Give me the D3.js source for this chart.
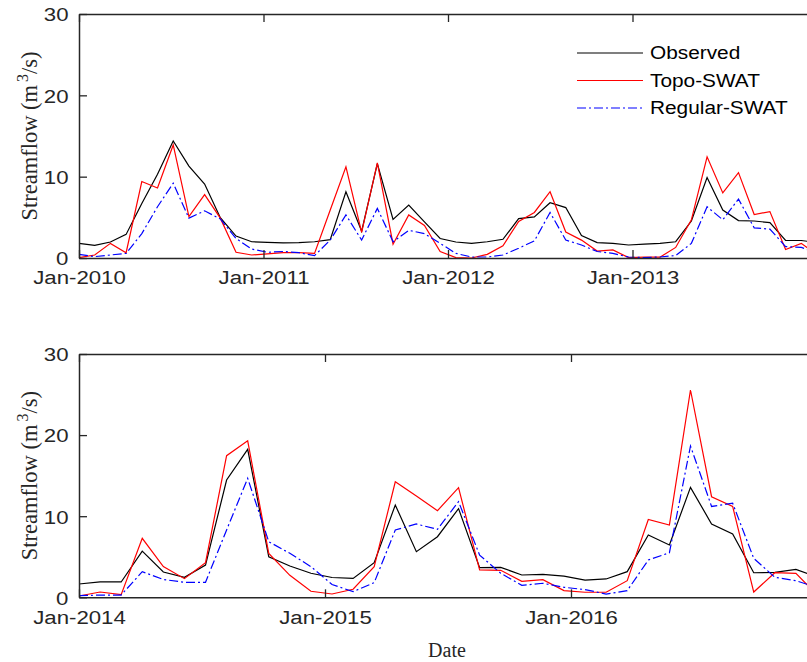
<!DOCTYPE html>
<html><head><meta charset="utf-8">
<script src="https://cdn.jsdelivr.net/npm/d3@7"></script>
<style>body{margin:0;background:#fff}svg{display:block}</style>
</head><body>
<svg id="chart" width="807" height="662"></svg>
<script>
// ---------- DATA ----------
const legendNames = ["Observed", "Topo-SWAT", "Regular-SWAT"];
const yTicks = [0, 10, 20, 30];

// Panel 1: Jan-2010 .. Dec-2013 (monthly)
const p1TickLabels = ["Jan-2010", "Jan-2011", "Jan-2012", "Jan-2013"];
const p1Observed = [1.8,1.56,1.97,2.9,6.7,10.3,14.4,11.3,9.1,4.95,2.7,2.0,
  1.93,1.85,1.9,2.0,2.25,8.15,3.3,11.6,4.75,6.5,4.45,2.4,
  1.97,1.8,2.0,2.3,4.85,5.05,6.8,6.2,2.75,1.9,1.8,1.6,
  1.7,1.8,2.0,4.55,9.9,5.9,4.6,4.55,4.35,2.15,2.15,1.9];
const p1Topo = [0.05,0.37,1.8,0.65,9.4,8.6,13.9,5.1,7.8,4.9,0.7,0.37,
  0.5,0.65,0.65,0.57,5.9,11.2,3.15,11.7,1.7,5.3,4.0,0.8,
  0.05,0.0,0.45,1.5,4.5,5.6,8.15,3.2,2.2,0.85,1.0,0.05,
  0.1,0.1,1.3,4.7,12.45,8.0,10.5,5.35,5.7,1.05,1.8,0.4];
const p1Regular = [0.45,0.17,0.37,0.57,3.0,6.3,9.2,4.9,5.8,4.8,2.4,1.1,
  0.7,0.8,0.65,0.3,2.2,5.3,2.2,6.1,2.0,3.4,3.0,1.8,
  0.57,0.12,0.12,0.37,1.2,2.1,5.6,2.2,1.6,0.8,0.57,0.12,
  0.05,0.12,0.3,1.8,6.3,4.7,7.25,3.7,3.55,1.4,1.3,0.6];

// Panel 2: Jan-2014 .. Dec-2016 (monthly)
const p2TickLabels = ["Jan-2014", "Jan-2015", "Jan-2016"];
const p2Observed = [1.64,1.89,1.89,5.7,3.12,2.46,3.98,14.46,18.25,5.0,3.86,2.96,
  2.44,2.33,4.27,11.38,5.63,7.47,10.93,3.65,3.69,2.75,2.83,2.6,
  2.13,2.26,3.16,7.68,6.45,13.56,9.04,7.8,3.03,3.07,3.45,2.5];
const p2Topo = [0.16,0.65,0.33,7.27,3.78,2.3,4.27,17.46,19.3,5.42,2.71,0.74,
  0.41,0.99,3.78,14.25,12.49,10.68,13.52,3.37,3.33,1.97,2.17,0.82,
  0.62,0.62,2.05,9.6,8.9,25.56,12.4,11.2,0.65,3.03,2.95,0.3];
const p2Regular = [0.2,0.28,0.28,3.16,2.2,1.85,1.85,8.3,14.67,6.86,5.42,3.78,
  1.58,0.7,1.81,8.3,9.04,8.38,11.8,5.2,2.96,1.48,1.73,1.23,
  0.95,0.4,0.82,4.6,5.5,18.66,11.2,11.6,4.8,2.47,2.05,1.2];

// ---------- STYLE / LAYOUT ----------
const svg = d3.select("#chart");
const SX = 1.17;               // horizontal stretch of the original figure text
const sansFont = "'Liberation Sans', Arial, sans-serif";
const serifFont = "'Liberation Serif', 'Times New Roman', serif";
const axisColor = "#262626";
const seriesStyle = [
  {color: "#000000", dash: null},
  {color: "#ff0000", dash: null},
  {color: "#0000ff", dash: "9,3,2,3"}
];
const left = 79, right = 817;

function drawPanel(top, bottom, obs, topo, reg, tickLabels, showLegend) {
  const n = obs.length;
  const x = d3.scaleLinear().domain([0, n - 1]).range([left, right]);
  const y = d3.scaleLinear().domain([0, 30]).range([bottom, top]);
  const tickVals = tickLabels.map((d, i) => i * (n - 1) / tickLabels.length);
  const g = svg.append("g");

  // series
  const line = d3.line().x((d, i) => x(i)).y(d => y(d));
  [obs, topo, reg].forEach((s, k) => {
    g.append("path").datum(s)
      .attr("d", line)
      .attr("fill", "none")
      .attr("stroke", seriesStyle[k].color)
      .attr("stroke-width", 1.2)
      .attr("stroke-dasharray", seriesStyle[k].dash)
      .attr("stroke-linejoin", "miter");
  });

  // axes
  const xb = d3.axisBottom(x).tickValues(tickVals)
    .tickFormat((d, i) => tickLabels[i]).tickSizeInner(-8).tickSizeOuter(0).tickPadding(13);
  const xt = d3.axisTop(x).tickValues(tickVals).tickFormat("").tickSizeInner(-8).tickSizeOuter(0);
  const yl = d3.axisLeft(y).tickValues(yTicks).tickSizeInner(-8).tickSizeOuter(0).tickPadding(9);

  const gx = g.append("g").attr("transform", `translate(0,${bottom})`).call(xb);
  const gt = g.append("g").attr("transform", `translate(0,${top})`).call(xt);
  const gy = g.append("g").attr("transform", `translate(${left},0)`).call(yl);
  [gx, gt, gy].forEach(a => {
    a.select(".domain").attr("stroke", axisColor).attr("stroke-width", 1.5);
    a.selectAll(".tick line").attr("stroke", axisColor).attr("stroke-width", 1.3);
    a.selectAll(".tick text").attr("fill", "#262626")
      .style("font-family", sansFont).style("font-size", "19px")
      .attr("transform", `scale(${SX},1)`);
  });
  gy.selectAll(".tick text").attr("dy", "0.36em");

  // y label
  const cy = (top + bottom) / 2;
  const lab = g.append("text")
    .attr("transform", `translate(37,${cy}) rotate(-90)`)
    .attr("text-anchor", "middle")
    .style("font-family", serifFont).style("font-size", "22.5px").attr("fill", "#262626");
  lab.append("tspan").text("Streamflow (m");
  lab.append("tspan").text("3").attr("dy", -9).style("font-size", "16px").attr("dx", 3);
  lab.append("tspan").text("/s)").attr("dy", 9);

  if (showLegend) {
    const lg = g.append("g");
    legendNames.forEach((name, k) => {
      const ly = 53 + k * 27.5;
      lg.append("line").attr("x1", 577).attr("x2", 643).attr("y1", ly).attr("y2", ly)
        .attr("stroke", seriesStyle[k].color).attr("stroke-width", 1.2)
        .attr("stroke-dasharray", seriesStyle[k].dash);
      lg.append("text").attr("transform", `translate(650,${ly}) scale(${SX},1)`)
        .attr("dy", "0.36em").text(name)
        .style("font-family", sansFont).style("font-size", "17.8px").attr("fill", "#000");
    });
  }
}

drawPanel(14, 258, p1Observed, p1Topo, p1Regular, p1TickLabels, true);
drawPanel(354, 597.3, p2Observed, p2Topo, p2Regular, p2TickLabels, false);

svg.append("text").attr("x", 447).attr("y", 657).attr("text-anchor", "middle")
  .style("font-family", serifFont).style("font-size", "20px").attr("fill", "#262626")
  .text("Date");
</script>
</body></html>
